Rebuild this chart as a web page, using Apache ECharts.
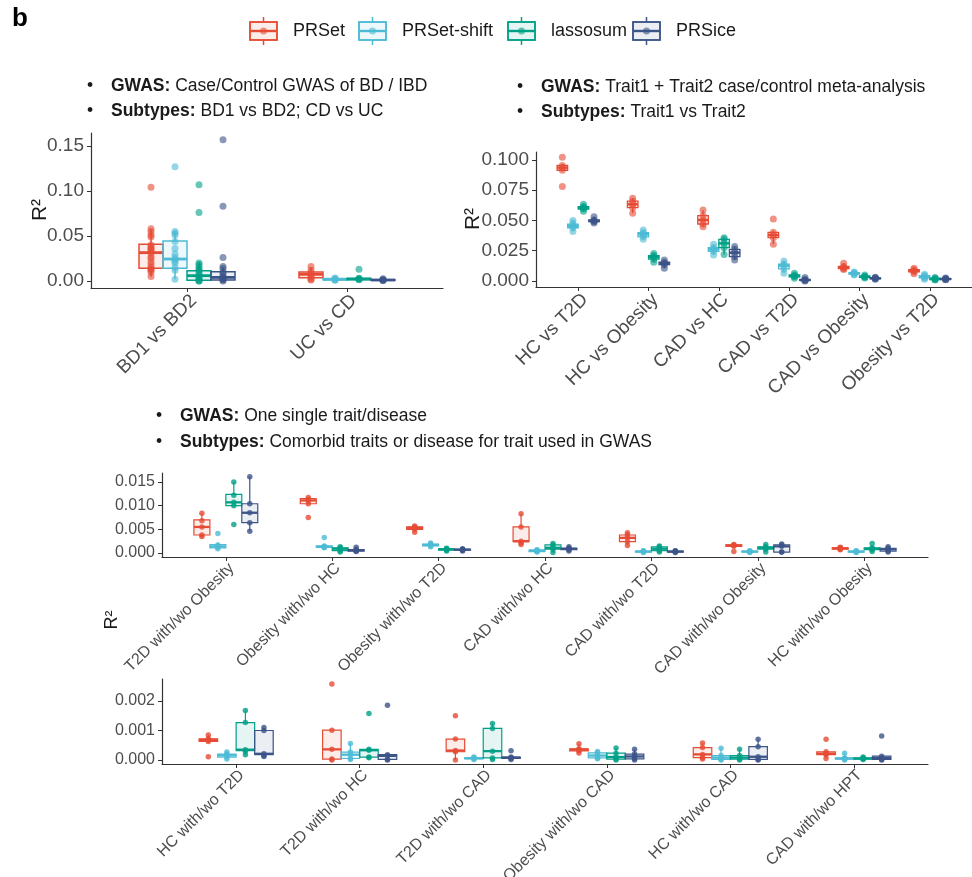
<!DOCTYPE html>
<html>
<head>
<meta charset="utf-8">
<script src="https://cdn.jsdelivr.net/npm/echarts@6/dist/echarts.min.js"></script>
<style>html,body{margin:0;padding:0;background:#fff;}#chart{width:972px;height:877px;}</style>
</head>
<body>
<div id="chart"></div>
<script>
// ---------------- DATA ----------------
const methodNames = ['PRSet', 'PRSet-shift', 'lassosum', 'PRSice'];

// Panel 1
const p1Categories = ['BD1 vs BD2', 'UC vs CD'];
const p1YTicks = [0, 0.05, 0.10, 0.15];
const p1Box_PRSet = [[0.0048, 0.0141, 0.0315, 0.0408, 0.0574], [0.0015, 0.0035, 0.0074, 0.0100, 0.0150]];
const p1Box_PRSetShift = [[0.0019, 0.0141, 0.0244, 0.0444, 0.0555], [0.0008, 0.0012, 0.0019, 0.0026, 0.0034]];
const p1Box_lassosum = [[0.0000, 0.0007, 0.0059, 0.0115, 0.0215], [0.0010, 0.0015, 0.0022, 0.0028, 0.0036]];
const p1Box_PRSice = [[0.0000, 0.0011, 0.0040, 0.0104, 0.0152], [0.0003, 0.0008, 0.0011, 0.0014, 0.0026]];
const p1Pts_PRSet = [[0.104, 0.058, 0.055, 0.051, 0.049, 0.040, 0.038, 0.036, 0.035, 0.033, 0.031, 0.027, 0.025, 0.021, 0.018, 0.015, 0.013, 0.012, 0.010, 0.005], [0.016, 0.012, 0.009, 0.006, 0.004, 0.002, 0.001]];
const p1Pts_PRSetShift = [[0.127, 0.055, 0.053, 0.051, 0.044, 0.036, 0.030, 0.026, 0.024, 0.022, 0.020, 0.015, 0.012, 0.002], [0.0034, 0.0025, 0.0019, 0.0012, 0.0008]];
const p1Pts_lassosum = [[0.107, 0.076, 0.020, 0.018, 0.015, 0.013, 0.011, 0.008, 0.006, 0.004, 0.003, 0.001, 0.000, 0.000], [0.013, 0.0030, 0.0025, 0.0020, 0.0015]];
const p1Pts_PRSice = [[0.157, 0.083, 0.026, 0.016, 0.014, 0.010, 0.008, 0.005, 0.004, 0.003, 0.002, 0.001, 0.000], [0.0026, 0.0014, 0.0011, 0.0008, 0.0005]];

// Panel 2
const p2Categories = ['HC vs T2D', 'HC vs Obesity', 'CAD vs HC', 'CAD vs T2D', 'CAD vs Obesity', 'Obesity vs T2D'];
const p2YTicks = [0, 0.025, 0.050, 0.075, 0.100];
const p2Box_PRSet = [[0.0905, 0.0915, 0.0937, 0.0955, 0.0965], [0.0560, 0.0606, 0.0634, 0.0660, 0.0683], [0.0449, 0.0471, 0.0504, 0.0540, 0.0587], [0.0303, 0.0358, 0.0380, 0.0402, 0.0415], [0.0095, 0.0102, 0.0110, 0.0120, 0.0146], [0.0060, 0.0075, 0.0085, 0.0093, 0.0105]];
const p2Box_PRSetShift = [[0.0410, 0.0440, 0.0457, 0.0470, 0.0500], [0.0344, 0.0365, 0.0386, 0.0400, 0.0421], [0.0215, 0.0245, 0.0262, 0.0275, 0.0303], [0.0063, 0.0100, 0.0127, 0.0140, 0.0165], [0.0050, 0.0056, 0.0063, 0.0068, 0.0075], [0.0015, 0.0025, 0.0036, 0.0045, 0.0055]];
const p2Box_lassosum = [[0.0576, 0.0595, 0.0606, 0.0615, 0.0635], [0.0154, 0.0180, 0.0198, 0.0210, 0.0228], [0.0220, 0.0275, 0.0311, 0.0344, 0.0358], [0.0022, 0.0035, 0.0041, 0.0050, 0.0063], [0.0025, 0.0030, 0.0036, 0.0040, 0.0050], [0.0008, 0.0012, 0.0017, 0.0022, 0.0028]];
const p2Box_PRSice = [[0.0480, 0.0490, 0.0496, 0.0505, 0.0531], [0.0105, 0.0135, 0.0146, 0.0155, 0.0174], [0.0174, 0.0201, 0.0234, 0.0262, 0.0285], [0.0000, 0.0005, 0.0008, 0.0012, 0.0028], [0.0015, 0.0019, 0.0022, 0.0026, 0.0030], [0.0010, 0.0013, 0.0016, 0.0020, 0.0025]];
const p2Pts_PRSet = [[0.1022, 0.0955, 0.0937, 0.0915, 0.0780], [0.0683, 0.0660, 0.0634, 0.0606, 0.0560], [0.0587, 0.0540, 0.0504, 0.0471, 0.0449], [0.0512, 0.0402, 0.0380, 0.0358, 0.0303], [0.0146, 0.0120, 0.0110, 0.0102, 0.0095], [0.0105, 0.0093, 0.0085, 0.0075, 0.0060]];
const p2Pts_PRSetShift = [[0.0500, 0.0480, 0.0457, 0.0440, 0.0410], [0.0421, 0.0400, 0.0386, 0.0365, 0.0344], [0.0303, 0.0275, 0.0262, 0.0245, 0.0215], [0.0165, 0.0140, 0.0127, 0.0100, 0.0063], [0.0075, 0.0068, 0.0063, 0.0056, 0.0050], [0.0055, 0.0045, 0.0036, 0.0025, 0.0015]];
const p2Pts_lassosum = [[0.0635, 0.0615, 0.0606, 0.0595, 0.0576], [0.0228, 0.0210, 0.0198, 0.0180, 0.0154], [0.0358, 0.0344, 0.0311, 0.0275, 0.0220], [0.0063, 0.0050, 0.0041, 0.0035, 0.0022], [0.0050, 0.0040, 0.0036, 0.0030, 0.0025], [0.0028, 0.0022, 0.0017, 0.0012, 0.0008]];
const p2Pts_PRSice = [[0.0531, 0.0505, 0.0496, 0.0490, 0.0480], [0.0174, 0.0155, 0.0146, 0.0135, 0.0105], [0.0285, 0.0262, 0.0234, 0.0201, 0.0174], [0.0028, 0.0012, 0.0008, 0.0005, 0.0000], [0.0030, 0.0026, 0.0022, 0.0019, 0.0015], [0.0025, 0.0020, 0.0016, 0.0013, 0.0010]];

// Panel 3
const p3Categories = ['T2D with/wo Obesity', 'Obesity with/wo HC', 'Obesity with/wo T2D', 'CAD with/wo HC', 'CAD with/wo T2D', 'CAD with/wo Obesity', 'HC with/wo Obesity'];
const p3YTicks = [0, 0.005, 0.010, 0.015];
const p3Box_PRSet = [[0.0035, 0.0038, 0.0055, 0.0070, 0.0084], [0.0102, 0.0104, 0.0111, 0.0115, 0.0117], [0.0044, 0.0050, 0.0053, 0.0055, 0.0057], [0.0018, 0.0024, 0.0025, 0.0055, 0.0083], [0.0016, 0.0024, 0.0032, 0.0038, 0.0043], [0.0013, 0.0014, 0.0016, 0.0017, 0.0018], [0.0007, 0.0008, 0.0010, 0.0011, 0.0012]];
const p3Box_PRSetShift = [[0.0009, 0.0011, 0.0014, 0.0018, 0.0022], [0.0011, 0.0012, 0.0013, 0.0015, 0.0016], [0.0013, 0.0015, 0.0017, 0.0019, 0.0021], [0.0002, 0.0003, 0.0005, 0.0006, 0.0007], [0.0001, 0.0002, 0.0003, 0.0004, 0.0005], [0.0001, 0.0002, 0.0003, 0.0004, 0.0005], [0.0001, 0.0002, 0.0003, 0.0004, 0.0005]];
const p3Box_lassosum = [[0.0098, 0.0100, 0.0107, 0.0124, 0.0150], [0.0002, 0.0005, 0.0009, 0.0011, 0.0013], [0.0004, 0.0006, 0.0008, 0.0009, 0.0010], [0.0001, 0.0008, 0.0011, 0.0017, 0.0020], [0.0002, 0.0005, 0.0009, 0.0013, 0.0015], [0.0002, 0.0008, 0.0011, 0.0013, 0.0018], [0.0003, 0.0007, 0.0009, 0.0011, 0.0013]];
const p3Box_PRSice = [[0.0046, 0.0064, 0.0085, 0.0104, 0.0161], [0.0003, 0.0004, 0.0006, 0.0007, 0.0012], [0.0004, 0.0006, 0.0007, 0.0008, 0.0009], [0.0004, 0.0007, 0.0009, 0.0010, 0.0013], [0.0001, 0.0002, 0.0003, 0.0004, 0.0005], [0.0002, 0.0002, 0.0014, 0.0017, 0.0019], [0.0002, 0.0004, 0.0008, 0.0010, 0.0013]];
const p3Pts_PRSet = [[0.0084, 0.0068, 0.0055, 0.0038, 0.0035], [0.0117, 0.0113, 0.0111, 0.0104, 0.0075], [0.0057, 0.0055, 0.0053, 0.0050, 0.0044], [0.0083, 0.0055, 0.0025, 0.0021, 0.0018], [0.0043, 0.0038, 0.0032, 0.0024, 0.0016], [0.0018, 0.0017, 0.0016, 0.0014, 0.0003], [0.0012, 0.0011, 0.0010, 0.0008, 0.0007]];
const p3Pts_PRSetShift = [[0.0041, 0.0017, 0.0014, 0.0012, 0.0009], [0.0033, 0.0015, 0.0013, 0.0012, 0.0011], [0.0021, 0.0019, 0.0017, 0.0015, 0.0013], [0.0007, 0.0006, 0.0005, 0.0003, 0.0002], [0.0005, 0.0004, 0.0003, 0.0002, 0.0001], [0.0005, 0.0004, 0.0003, 0.0002, 0.0001], [0.0005, 0.0004, 0.0003, 0.0002, 0.0001]];
const p3Pts_lassosum = [[0.0150, 0.0122, 0.0107, 0.0100, 0.0060], [0.0013, 0.0011, 0.0009, 0.0005, 0.0002], [0.0010, 0.0009, 0.0008, 0.0006, 0.0004], [0.0020, 0.0017, 0.0011, 0.0008, 0.0001], [0.0015, 0.0013, 0.0009, 0.0005, 0.0002], [0.0018, 0.0013, 0.0011, 0.0008, 0.0002], [0.0020, 0.0011, 0.0009, 0.0007, 0.0003]];
const p3Pts_PRSice = [[0.0161, 0.0104, 0.0085, 0.0064, 0.0046], [0.0012, 0.0007, 0.0006, 0.0004, 0.0003], [0.0009, 0.0008, 0.0007, 0.0006, 0.0004], [0.0013, 0.0010, 0.0009, 0.0007, 0.0004], [0.0005, 0.0004, 0.0003, 0.0002, 0.0001], [0.0019, 0.0017, 0.0014, 0.0002, 0.0002], [0.0013, 0.0010, 0.0008, 0.0004, 0.0002]];

// Panel 4
const p4Categories = ['HC with/wo T2D', 'T2D with/wo HC', 'T2D with/wo CAD', 'Obesity with/wo CAD', 'HC with/wo CAD', 'CAD with/wo HPT'];
const p4YTicks = [0, 0.001, 0.002];
const p4Box_PRSet = [[0.00059, 0.00063, 0.00068, 0.00072, 0.00085], [0.00000, 0.00003, 0.00036, 0.00101, 0.00102], [0.00000, 0.00028, 0.00032, 0.00071, 0.00072], [0.00024, 0.00031, 0.00035, 0.00038, 0.00055], [0.00003, 0.00008, 0.00019, 0.00042, 0.00058], [0.00005, 0.00018, 0.00022, 0.00028, 0.00030]];
const p4Box_PRSetShift = [[0.00003, 0.00010, 0.00016, 0.00020, 0.00027], [0.00002, 0.00005, 0.00018, 0.00027, 0.00056], [0.00002, 0.00004, 0.00006, 0.00008, 0.00010], [0.00004, 0.00007, 0.00015, 0.00024, 0.00029], [0.00000, 0.00002, 0.00008, 0.00015, 0.00040], [0.00000, 0.00003, 0.00005, 0.00007, 0.00023]];
const p4Box_lassosum = [[0.00018, 0.00032, 0.00035, 0.00127, 0.00168], [0.00008, 0.00010, 0.00033, 0.00036, 0.00038], [0.00002, 0.00007, 0.00030, 0.00107, 0.00124], [0.00000, 0.00003, 0.00010, 0.00023, 0.00041], [0.00000, 0.00003, 0.00008, 0.00015, 0.00036], [0.00002, 0.00003, 0.00005, 0.00007, 0.00010]];
const p4Box_PRSice = [[0.00012, 0.00018, 0.00021, 0.00100, 0.00110], [0.00000, 0.00002, 0.00014, 0.00018, 0.00019], [0.00002, 0.00005, 0.00008, 0.00010, 0.00012], [0.00000, 0.00004, 0.00012, 0.00020, 0.00036], [0.00000, 0.00002, 0.00011, 0.00045, 0.00070], [0.00000, 0.00002, 0.00007, 0.00013, 0.00017]];
const p4Pts_PRSet = [[0.00085, 0.00072, 0.00068, 0.00063, 0.00011], [0.00258, 0.00101, 0.00036, 0.00003, 0.00000], [0.00150, 0.00071, 0.00032, 0.00028, 0.00000], [0.00055, 0.00038, 0.00035, 0.00031, 0.00024], [0.00058, 0.00042, 0.00019, 0.00008, 0.00003], [0.00070, 0.00028, 0.00022, 0.00018, 0.00005]];
const p4Pts_PRSetShift = [[0.00027, 0.00020, 0.00016, 0.00010, 0.00003], [0.00056, 0.00027, 0.00018, 0.00005, 0.00002], [0.00010, 0.00008, 0.00006, 0.00004, 0.00002], [0.00029, 0.00024, 0.00015, 0.00007, 0.00004], [0.00040, 0.00015, 0.00008, 0.00002, 0.00000], [0.00023, 0.00007, 0.00005, 0.00003, 0.00000]];
const p4Pts_lassosum = [[0.00168, 0.00127, 0.00035, 0.00030, 0.00018], [0.00158, 0.00036, 0.00033, 0.00010, 0.00008], [0.00124, 0.00107, 0.00030, 0.00007, 0.00002], [0.00041, 0.00023, 0.00010, 0.00003, 0.00000], [0.00036, 0.00015, 0.00008, 0.00003, 0.00000], [0.00010, 0.00007, 0.00005, 0.00003, 0.00002]];
const p4Pts_PRSice = [[0.00110, 0.00100, 0.00021, 0.00015, 0.00012], [0.00186, 0.00018, 0.00014, 0.00002, 0.00000], [0.00031, 0.00010, 0.00008, 0.00005, 0.00002], [0.00036, 0.00020, 0.00012, 0.00004, 0.00000], [0.00070, 0.00045, 0.00011, 0.00002, 0.00000], [0.00081, 0.00013, 0.00007, 0.00002, 0.00000]];

// ---------------- STYLE / LAYOUT ----------------
const colors = ['#E64B35', '#4DBBD5', '#00A087', '#3C5488'];
const fills = ['rgba(230,75,53,0.10)', 'rgba(77,187,213,0.10)', 'rgba(0,160,135,0.10)', 'rgba(60,84,136,0.10)'];
const dodge = [-0.225, -0.075, 0.075, 0.225];
const BOXW = 0.15;
const FONT = '"Liberation Sans", Arial, Helvetica, sans-serif';
const AXIS_TXT = '#4D4D4D';

const panels = [
  {cats: p1Categories, ticks: p1YTicks, dec: 2, yMin: -0.00778, yMax: 0.1644,
   grid: {left: 91, top: 133, width: 352, height: 155}, fs: 19, ptSize: 7, ptOpacity: 0.6, lw: 1.5,
   box: [p1Box_PRSet, p1Box_PRSetShift, p1Box_lassosum, p1Box_PRSice],
   pts: [p1Pts_PRSet, p1Pts_PRSetShift, p1Pts_lassosum, p1Pts_PRSice]},
  {cats: p2Categories, ticks: p2YTicks, dec: 3, yMin: -0.00496, yMax: 0.1066,
   grid: {left: 536, top: 152, width: 436, height: 135}, fs: 19, ptSize: 7, ptOpacity: 0.6, lw: 1.3,
   box: [p2Box_PRSet, p2Box_PRSetShift, p2Box_lassosum, p2Box_PRSice],
   pts: [p2Pts_PRSet, p2Pts_PRSetShift, p2Pts_lassosum, p2Pts_PRSice]},
  {cats: p3Categories, ticks: p3YTicks, dec: 3, yMin: -0.000845, yMax: 0.0169,
   grid: {left: 162, top: 473, width: 766, height: 84}, fs: 16, ptSize: 5.5, ptOpacity: 0.8, lw: 1.2,
   box: [p3Box_PRSet, p3Box_PRSetShift, p3Box_lassosum, p3Box_PRSice],
   pts: [p3Pts_PRSet, p3Pts_PRSetShift, p3Pts_lassosum, p3Pts_PRSice]},
  {cats: p4Categories, ticks: p4YTicks, dec: 3, yMin: -0.000136, yMax: 0.002746,
   grid: {left: 162, top: 679, width: 766, height: 85}, fs: 16, ptSize: 5.5, ptOpacity: 0.8, lw: 1.2,
   box: [p4Box_PRSet, p4Box_PRSetShift, p4Box_lassosum, p4Box_PRSice],
   pts: [p4Pts_PRSet, p4Pts_PRSetShift, p4Pts_lassosum, p4Pts_PRSice]}
];

const grids = [], xAxes = [], yAxes = [], series = [];
panels.forEach((p, pi) => {
  grids.push(Object.assign({containLabel: false, outerBoundsMode: 'none'}, p.grid));
  const catPos = p.cats.map((c, i) => i + 1);
  xAxes.push({
    type: 'value', gridIndex: pi, min: 0.4, max: p.cats.length + 0.6,
    axisLine: {show: true, onZero: false, lineStyle: {color: '#333', width: 1.2}},
    axisTick: {show: true, customValues: catPos, length: 4, lineStyle: {color: '#333', width: 1}},
    axisLabel: {show: true, customValues: catPos, rotate: 45, margin: 3, align: 'right', verticalAlign: 'top',
      formatter: v => p.cats[Math.round(v) - 1] || '',
      fontSize: p.fs, color: AXIS_TXT, fontFamily: FONT},
    splitLine: {show: false}
  });
  yAxes.push({
    type: 'value', gridIndex: pi, min: p.yMin, max: p.yMax,
    axisLine: {show: true, onZero: false, lineStyle: {color: '#333', width: 1.2}},
    axisTick: {show: true, customValues: p.ticks, length: 4, lineStyle: {color: '#333', width: 1}},
    axisLabel: {show: true, customValues: p.ticks, margin: 7,
      formatter: v => v.toFixed(p.dec), fontSize: p.fs, color: AXIS_TXT, fontFamily: FONT},
    splitLine: {show: false}
  });
  methodNames.forEach((m, mi) => {
    const off = dodge[mi];
    const col = colors[mi], fil = fills[mi], lw = p.lw;
    series.push({
      type: 'custom', name: m, xAxisIndex: pi, yAxisIndex: pi, z: 2, silent: true,
      encode: {x: 0, y: [1, 2, 3, 4, 5]},
      data: p.box[mi].map((b, i) => [i + 1].concat(b)),
      renderItem: (params, api) => {
        const cx = api.value(0) + off;
        const lo = api.coord([cx, api.value(1)]);
        const q1 = api.coord([cx, api.value(2)]);
        const md = api.coord([cx, api.value(3)]);
        const q3 = api.coord([cx, api.value(4)]);
        const hi = api.coord([cx, api.value(5)]);
        const w = api.size([BOXW, 0])[0];
        return {type: 'group', children: [
          {type: 'line', shape: {x1: lo[0], y1: lo[1], x2: q1[0], y2: q1[1]}, style: {stroke: col, lineWidth: lw}},
          {type: 'line', shape: {x1: q3[0], y1: q3[1], x2: hi[0], y2: hi[1]}, style: {stroke: col, lineWidth: lw}},
          {type: 'rect', shape: {x: q3[0] - w / 2, y: q3[1], width: w, height: Math.max(q1[1] - q3[1], 0.5)},
           style: {fill: fil, stroke: col, lineWidth: lw}},
          {type: 'line', shape: {x1: md[0] - w / 2, y1: md[1], x2: md[0] + w / 2, y2: md[1]}, style: {stroke: col, lineWidth: lw * 1.9}}
        ]};
      }
    });
    const sd = [];
    p.pts[mi].forEach((vals, i) => vals.forEach(v => sd.push([i + 1 + off, v])));
    series.push({
      type: 'scatter', name: m + ' pts', xAxisIndex: pi, yAxisIndex: pi, z: 3, silent: true,
      symbol: 'circle', symbolSize: p.ptSize, data: sd,
      itemStyle: {color: col, opacity: p.ptOpacity}
    });
  });
});

// ---------------- GRAPHIC TEXTS ----------------
const graphics = [];
const txt = (x, y, text, fs, extra) => ({type: 'text', x: x, y: y, silent: true,
  style: Object.assign({text: text, fontSize: fs, fontFamily: FONT, fill: '#1a1a1a', align: 'left', verticalAlign: 'middle'}, extra || {})});
graphics.push(txt(12, 19, 'b', 26, {fontWeight: 'bold', fill: '#000'}));

// legend
const legendIconX = [250, 359, 508, 633];
methodNames.forEach((m, i) => {
  const x0 = legendIconX[i], cy = 31, c = colors[i];
  graphics.push({type: 'line', silent: true, shape: {x1: x0 + 13.5, y1: cy - 14, x2: x0 + 13.5, y2: cy + 14}, style: {stroke: c, lineWidth: 1.5}});
  graphics.push({type: 'rect', silent: true, shape: {x: x0, y: cy - 9, width: 27, height: 18}, style: {fill: '#fff', stroke: c, lineWidth: 1.5}});
  graphics.push({type: 'rect', silent: true, shape: {x: x0, y: cy - 9, width: 27, height: 18}, style: {fill: fills[i], stroke: c, lineWidth: 1.5}});
  graphics.push({type: 'line', silent: true, shape: {x1: x0, y1: cy, x2: x0 + 27, y2: cy}, style: {stroke: c, lineWidth: 2.4}});
  graphics.push({type: 'circle', silent: true, shape: {cx: x0 + 13.5, cy: cy, r: 3.5}, style: {fill: c, opacity: 0.6}});
  graphics.push(txt(x0 + 43, cy, m, 18));
});

// panel headers
const HFS = 17.5;
const rich = {b: {fontWeight: 'bold', fontSize: HFS, fontFamily: FONT, fill: '#1a1a1a'}};
const header = (bx, tx, y, text) => {
  graphics.push(txt(bx, y, '•', HFS, {align: 'center'}));
  graphics.push(txt(tx, y, text, HFS, {rich: rich}));
};
header(90, 111, 86, '{b|GWAS:} Case/Control GWAS of BD / IBD');
header(90, 111, 111, '{b|Subtypes:} BD1 vs BD2; CD vs UC');
header(520, 541, 87, '{b|GWAS:} Trait1 + Trait2 case/control meta-analysis');
header(520, 541, 112, '{b|Subtypes:} Trait1 vs Trait2');
header(159, 180, 416, '{b|GWAS:} One single trait/disease');
header(159, 180, 442, '{b|Subtypes:} Comorbid traits or disease for trait used in GWAS');

// y-axis titles
const rtitle = (x, y, fs) => graphics.push({type: 'text', x: x, y: y, rotation: Math.PI / 2, silent: true,
  style: {text: 'R²', fontSize: fs, fontFamily: FONT, fill: '#1a1a1a', align: 'center', verticalAlign: 'middle'}});
rtitle(40, 210, 21);
rtitle(473, 219, 21);
rtitle(112, 620, 18);

const chart = echarts.init(document.getElementById('chart'), null, {renderer: 'canvas'});
chart.setOption({
  animation: false,
  backgroundColor: '#fff',
  grid: grids, xAxis: xAxes, yAxis: yAxes, series: series,
  graphic: graphics
});
</script>
</body>
</html>
